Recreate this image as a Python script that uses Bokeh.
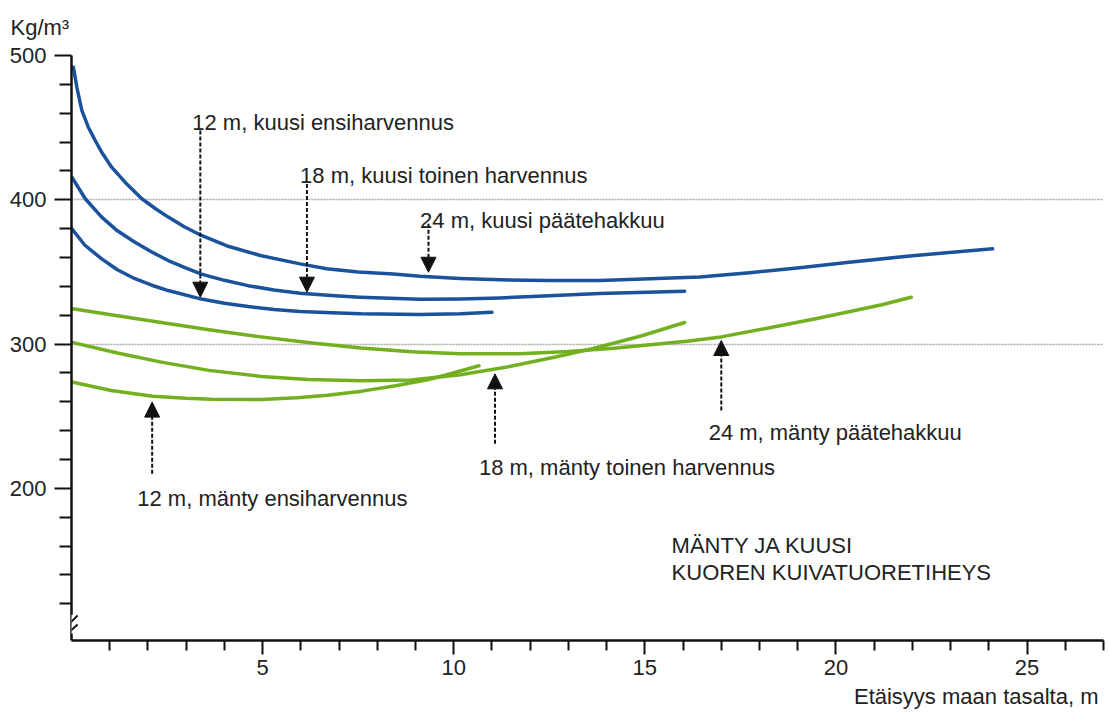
from bokeh.plotting import figure
from bokeh.models import FixedTicker, Arrow, NormalHead, ColumnDataSource, Range1d, Title
from bokeh.embed import file_html
from bokeh.resources import INLINE
from bokeh.core.properties import value

# ---------------- data ----------------
# kuusi (spruce) curves
kuusi12_x = [0.01, 0.35, 0.79, 1.2, 1.66, 2.1, 2.53, 3.40, 4.0, 4.62, 5.3, 5.98, 6.8, 7.57, 9.12, 10.18, 11.0]
kuusi12_y = [379.9, 368.5, 359.1, 351.5, 345.3, 340.8, 337.1, 331.2, 328.3, 326.0, 324.0, 322.6, 321.7, 321.0, 320.6, 321.0, 322.1]

kuusi18_x = [0.01, 0.36, 0.79, 1.2, 1.66, 2.1, 2.53, 3.0, 3.40, 4.0, 4.62, 5.3, 5.98, 6.8, 7.55, 9.12, 10.16, 11.21,
             12.5, 13.82, 16.04]
kuusi18_y = [415.7, 400.7, 388.0, 378.5, 370.6, 363.8, 357.9, 352.6, 348.5, 344.2, 340.5, 337.5, 335.2, 333.6, 332.5,
             331.0, 331.2, 332.0, 333.5, 335.0, 336.7]

kuusi24_x = [0.05, 0.14, 0.27, 0.44, 0.62, 0.79, 1.05, 1.40, 1.84, 2.2, 2.53, 2.95, 3.40, 4.1, 4.94, 5.98, 6.68, 7.5,
             8.42, 9.12, 10.16, 11.21, 12.5, 13.82, 15.14, 16.44, 17.74, 19.05, 20.35, 22.0, 24.1]
kuusi24_y = [491.9, 478.0, 461.9, 450.3, 441.1, 433.0, 422.6, 412.2, 400.7, 393.8, 388.0, 381.3, 375.3, 367.8, 361.4,
             355.6, 352.2, 350.0, 348.5, 347.0, 345.5, 344.6, 344.0, 344.1, 345.3, 346.5, 349.5, 352.9, 356.8,
             361.3, 366.0]

# mänty (pine) curves
manty12_x = [0.04, 1.04, 2.13, 3.0, 3.66, 4.96, 5.9, 6.7, 7.6, 8.44, 9.31, 9.8, 10.66]
manty12_y = [273.6, 267.8, 263.9, 262.4, 261.7, 261.6, 262.8, 264.6, 267.4, 271.0, 275.3, 278.6, 285.0]

manty18_x = [0.04, 1.2, 2.35, 3.6, 4.96, 6.2, 7.57, 8.88, 10.18, 11.49, 12.6, 13.65, 14.9, 16.04]
manty18_y = [301.0, 293.8, 287.5, 281.8, 277.6, 275.4, 274.6, 275.2, 278.7, 284.6, 290.7, 297.0, 305.6, 315.0]

manty24_x = [0.03, 1.2, 2.35, 3.6, 4.96, 6.3, 7.57, 8.9, 10.18, 11.73, 13.0, 14.2, 15.14, 16.1, 17.0, 18.2, 19.5,
             20.37, 21.2, 21.97]
manty24_y = [324.5, 319.6, 315.0, 310.0, 305.0, 300.8, 297.3, 294.7, 293.4, 293.4, 294.9, 297.2, 299.5, 302.0,
             305.0, 311.0, 317.8, 322.6, 327.3, 332.5]

# annotation arrows (x, from y, to y)
arrow_x = [3.37, 6.16, 9.34, 2.11, 11.08, 17.0]
arrow_y0 = [448.0, 411.0, 383.4, 210.1, 230.9, 254.0]
arrow_y1 = [332.5, 336.0, 349.8, 259.8, 279.4, 302.5]

# annotation texts
label_text = ["12 m, kuusi ensiharvennus", "18 m, kuusi toinen harvennus", "24 m, kuusi päätehakkuu",
              "12 m, mänty ensiharvennus", "18 m, mänty toinen harvennus", "24 m, mänty päätehakkuu",
              "MÄNTY JA KUUSI", "KUOREN KUIVATUORETIHEYS"]
label_x = [3.16, 5.98, 9.12, 1.72, 10.66, 16.67, 15.7, 15.7]
label_y = [453.8, 416.8, 385.7, 193.0, 214.7, 239.0, 160.4, 142.0]

x_major = [5, 10, 15, 20, 25]
x_minor = [v for v in range(1, 28) if v % 5 != 0]
y_major = [200, 300, 400, 500]
y_minor = [v for v in range(120, 500, 20) if v % 100 != 0]
grid_lines = [300, 400]

y_unit = "Kg/m³"
x_title = "Etäisyys maan tasalta, m"

# ---------------- styling ----------------
FONT = "Liberation Sans"
FS = "22px"
TXT = "#222222"
BLUE = "#1a529c"
GREEN = "#72b020"

p = figure(width=1105, height=715, x_range=Range1d(0, 27), y_range=Range1d(94.6, 500),
           output_backend="svg", toolbar_location=None, title=None,
           min_border_left=71, min_border_top=55, min_border_right=2, min_border_bottom=75)
p.outline_line_color = None
p.background_fill_color = "white"
p.border_fill_color = "white"

p.xgrid.visible = False
p.ygrid.ticker = FixedTicker(ticks=grid_lines)
p.ygrid.grid_line_color = "#a8a8a8"
p.ygrid.grid_line_dash = "2 1"
p.ygrid.grid_line_width = 1.5

p.xaxis.ticker = FixedTicker(ticks=x_major, minor_ticks=x_minor)
p.yaxis.ticker = FixedTicker(ticks=y_major, minor_ticks=y_minor)
for ax in (p.xaxis[0], p.yaxis[0]):
    ax.axis_line_width = 2.5
    ax.axis_line_color = "#111111"
    ax.major_tick_line_width = 2
    ax.minor_tick_line_width = 2
    ax.major_tick_line_color = "#111111"
    ax.minor_tick_line_color = "#111111"
    ax.major_tick_in = 0
    ax.minor_tick_in = 0
    ax.major_label_text_font = FONT
    ax.major_label_text_font_size = FS
    ax.major_label_text_color = TXT
p.yaxis.major_tick_out = 17
p.yaxis.minor_tick_out = 12
p.yaxis.major_label_standoff = 8
p.xaxis.major_tick_out = 14
p.xaxis.minor_tick_out = 10
p.xaxis.major_label_standoff = 5

# curves
for xs, ys, col in [(kuusi12_x, kuusi12_y, BLUE), (kuusi18_x, kuusi18_y, BLUE), (kuusi24_x, kuusi24_y, BLUE),
                    (manty12_x, manty12_y, GREEN), (manty18_x, manty18_y, GREEN), (manty24_x, manty24_y, GREEN)]:
    p.line(xs, ys, line_color=col, line_width=3.5, line_cap="round", line_join="round")

# arrows
asrc = ColumnDataSource(dict(x=arrow_x, y0=arrow_y0, y1=arrow_y1))
p.add_layout(Arrow(source=asrc, x_start="x", y_start="y0", x_end="x", y_end="y1",
                   line_color="#111111", line_width=2, line_dash="4 2",
                   end=NormalHead(size=15, fill_color="#111111", line_color="#111111", line_width=1)))

# texts
tsrc = ColumnDataSource(dict(x=label_x, y=label_y, t=label_text))
p.text(x="x", y="y", text="t", source=tsrc, text_font=value(FONT), text_font_size=FS,
       text_color=TXT, text_align="left", text_baseline="alphabetic")

# unit label (above) and x-axis title (below, right aligned)
p.add_layout(Title(text=y_unit, align="left", offset=-61, standoff=28, vertical_align="top",
                   text_font=FONT, text_font_size=FS, text_font_style="normal", text_color=TXT), "above")
p.add_layout(Title(text=x_title, align="right", offset=5, standoff=8, text_font=FONT,
                   text_font_size=FS, text_font_style="normal", text_color=TXT), "below")

# axis break mark
p.add_layout(Arrow(x_start=0, y_start=99.5, x_end=0, y_end=112.5, end=None,
                   line_color="white", line_width=6))
p.add_layout(Arrow(x_start=-0.13, y_start=104.3, x_end=0.16, y_end=111.9, end=None,
                   line_color="#111111", line_width=2))
p.add_layout(Arrow(x_start=-0.11, y_start=99.2, x_end=0.16, y_end=105.7, end=None,
                   line_color="#111111", line_width=2))

open("out.html", "w").write(file_html(p, INLINE))
